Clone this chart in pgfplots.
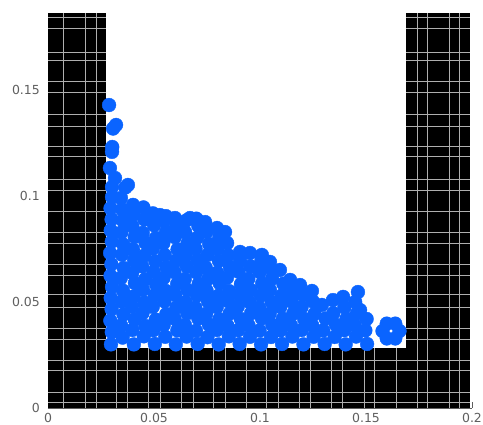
\documentclass[border=0pt]{standalone}
\usepackage{pgfplots}
\pgfplotsset{compat=1.18}
\usepackage{fontspec}
\setmainfont{DejaVu Sans}
\definecolor{dotblue}{RGB}{10,100,255}
\definecolor{gridc}{RGB}{175,175,175}
\definecolor{labc}{RGB}{95,95,95}

\pgfplotstableread{
x y
0.0297 0.0300
0.0301 0.0358
0.0294 0.0412
0.0300 0.0466
0.0296 0.0519
0.0302 0.0571
0.0295 0.0624
0.0299 0.0678
0.0293 0.0731
0.0301 0.0785
0.0296 0.0838
0.0300 0.0890
0.0295 0.0942
0.0302 0.0995
0.0302 0.1042
0.0316 0.1085
0.0292 0.1132
0.0302 0.1208
0.0303 0.1231
0.0307 0.1318
0.0321 0.1335
0.0288 0.1429
0.0352 0.0332
0.0345 0.0389
0.0356 0.0441
0.0348 0.0502
0.0354 0.0553
0.0343 0.0612
0.0357 0.0660
0.0349 0.0723
0.0355 0.0771
0.0346 0.0828
0.0353 0.0884
0.0350 0.0936
0.0344 0.0990
0.0365 0.1040
0.0377 0.1052
0.0405 0.0300
0.0398 0.0368
0.0409 0.0418
0.0396 0.0478
0.0404 0.0526
0.0410 0.0589
0.0397 0.0637
0.0406 0.0697
0.0401 0.0748
0.0409 0.0807
0.0398 0.0857
0.0404 0.0912
0.0401 0.0958
0.0452 0.0338
0.0459 0.0387
0.0446 0.0447
0.0455 0.0497
0.0448 0.0558
0.0458 0.0607
0.0444 0.0668
0.0453 0.0718
0.0460 0.0779
0.0447 0.0826
0.0455 0.0889
0.0450 0.0946
0.0504 0.0302
0.0497 0.0367
0.0508 0.0417
0.0494 0.0477
0.0503 0.0532
0.0510 0.0583
0.0498 0.0642
0.0506 0.0692
0.0495 0.0753
0.0509 0.0802
0.0500 0.0862
0.0495 0.0918
0.0528 0.0910
0.0553 0.0336
0.0546 0.0392
0.0558 0.0443
0.0549 0.0503
0.0556 0.0552
0.0545 0.0613
0.0559 0.0663
0.0551 0.0721
0.0544 0.0777
0.0557 0.0831
0.0548 0.0883
0.0556 0.0905
0.0603 0.0300
0.0610 0.0366
0.0597 0.0421
0.0606 0.0474
0.0600 0.0533
0.0609 0.0585
0.0596 0.0641
0.0605 0.0695
0.0611 0.0748
0.0598 0.0806
0.0604 0.0858
0.0599 0.0896
0.0654 0.0337
0.0646 0.0391
0.0657 0.0447
0.0648 0.0499
0.0659 0.0556
0.0645 0.0608
0.0655 0.0667
0.0650 0.0719
0.0658 0.0776
0.0647 0.0829
0.0655 0.0886
0.0706 0.0302
0.0698 0.0364
0.0709 0.0422
0.0695 0.0473
0.0703 0.0531
0.0711 0.0586
0.0699 0.0640
0.0707 0.0697
0.0696 0.0751
0.0704 0.0803
0.0709 0.0859
0.0670 0.0896
0.0700 0.0893
0.0752 0.0334
0.0759 0.0393
0.0746 0.0444
0.0755 0.0502
0.0748 0.0554
0.0758 0.0611
0.0744 0.0662
0.0753 0.0722
0.0760 0.0773
0.0747 0.0830
0.0741 0.0877
0.0805 0.0300
0.0797 0.0368
0.0808 0.0419
0.0796 0.0476
0.0803 0.0529
0.0810 0.0588
0.0798 0.0638
0.0806 0.0694
0.0799 0.0752
0.0808 0.0805
0.0797 0.0849
0.0853 0.0338
0.0846 0.0389
0.0857 0.0446
0.0849 0.0504
0.0855 0.0551
0.0844 0.0614
0.0858 0.0664
0.0850 0.0720
0.0845 0.0778
0.0835 0.0830
0.0904 0.0302
0.0897 0.0367
0.0909 0.0420
0.0895 0.0478
0.0903 0.0533
0.0910 0.0584
0.0898 0.0643
0.0906 0.0694
0.0906 0.0736
0.0953 0.0336
0.0946 0.0390
0.0958 0.0447
0.0949 0.0501
0.0956 0.0556
0.0945 0.0609
0.0955 0.0668
0.0953 0.0731
0.1005 0.0300
0.0998 0.0365
0.1009 0.0423
0.0996 0.0474
0.1004 0.0530
0.1010 0.0587
0.0999 0.0641
0.1006 0.0692
0.1009 0.0722
0.1052 0.0335
0.1058 0.0392
0.1046 0.0445
0.1055 0.0500
0.1047 0.0557
0.1057 0.0610
0.1049 0.0660
0.1047 0.0689
0.1104 0.0302
0.1097 0.0366
0.1108 0.0421
0.1096 0.0477
0.1103 0.0531
0.1110 0.0586
0.1094 0.0651
0.1153 0.0337
0.1146 0.0390
0.1157 0.0446
0.1149 0.0502
0.1156 0.0552
0.1142 0.0604
0.1205 0.0300
0.1197 0.0368
0.1208 0.0420
0.1196 0.0475
0.1204 0.0532
0.1189 0.0580
0.1253 0.0336
0.1246 0.0391
0.1257 0.0444
0.1249 0.0503
0.1245 0.0552
0.1305 0.0302
0.1298 0.0366
0.1309 0.0422
0.1292 0.0486
0.1352 0.0335
0.1358 0.0392
0.1346 0.0447
0.1344 0.0509
0.1404 0.0300
0.1397 0.0367
0.1408 0.0421
0.1398 0.0475
0.1392 0.0524
0.1453 0.0337
0.1446 0.0392
0.1457 0.0446
0.1449 0.0500
0.1462 0.0547
0.1505 0.0302
0.1497 0.0366
0.1503 0.0420
0.1472 0.0462
0.1578 0.0363
0.1658 0.0363
0.1598 0.0398
0.1638 0.0398
0.1598 0.0328
0.1638 0.0328
}\dots

\begin{document}
\begin{tikzpicture}
\begin{axis}[name=ax, scale only axis, width=424bp, height=395bp,
  xmin=0, xmax=0.2, ymin=0, ymax=0.1863,
  axis lines=left, axis line style={draw=labc, line width=0.6bp, -},
  xtick={0,0.05,0.1,0.15,0.2}, xticklabels={0,0.05,0.1,0.15,0.2},
  ytick={0,0.05,0.1,0.15}, yticklabels={0,0.05,0.1,0.15},
  scaled ticks=false,
  tick style={draw=labc, line width=0.6bp}, major tick length=6bp, tick align=inside,
  ticklabel style={font=\fontsize{12.5}{14}\selectfont, text=labc, inner sep=0pt},
  xticklabel style={anchor=north, yshift=-5bp},
  yticklabel style={anchor=east, xshift=-8bp},
]
\addplot[draw=none, fill=black] coordinates {(0,0) (0.199,0) (0.199,0.1863) (0,0.1863)} -- cycle;
\pgfplotsinvokeforeach{0.0075,0.0175,0.0231,0.0325,0.0377,0.0476,0.0533,0.0632,0.0684,0.0783,0.0835,0.0934,0.1033,0.1085,0.1184,0.1236,0.1335,0.1387,0.1491,0.1542,0.1642,0.1741,0.1792,0.1892,0.1943}{
  \addplot[gridc, line width=1bp] coordinates {(#1,0) (#1,0.1863)};
}
\pgfplotsinvokeforeach{0.0024,0.0071,0.0175,0.0226,0.0325,0.0377,0.0476,0.0533,0.0627,0.0679,0.0778,0.0829,0.0929,0.1028,0.1080,0.1184,0.1231,0.1330,0.1382,0.1486,0.1538,0.1637,0.1679,0.1788,0.1840}{
  \addplot[gridc, line width=1bp] coordinates {(0,#1) (0.199,#1)};
}
\addplot[draw=none, fill=white] coordinates {(0.0274,0.0283) (0.169,0.0283) (0.169,0.1863) (0.0274,0.1863)} -- cycle;
\addplot[dotblue, only marks, mark=*, mark size=6.9bp, mark options={solid, draw=dotblue, fill=dotblue}] table {\dots};
\end{axis}
\pgfresetboundingbox
\path[use as bounding box] ([shift={(-48bp,-17bp)}]ax.south west) rectangle ([shift={(11bp,13bp)}]ax.north east);
\end{tikzpicture}
\end{document}
